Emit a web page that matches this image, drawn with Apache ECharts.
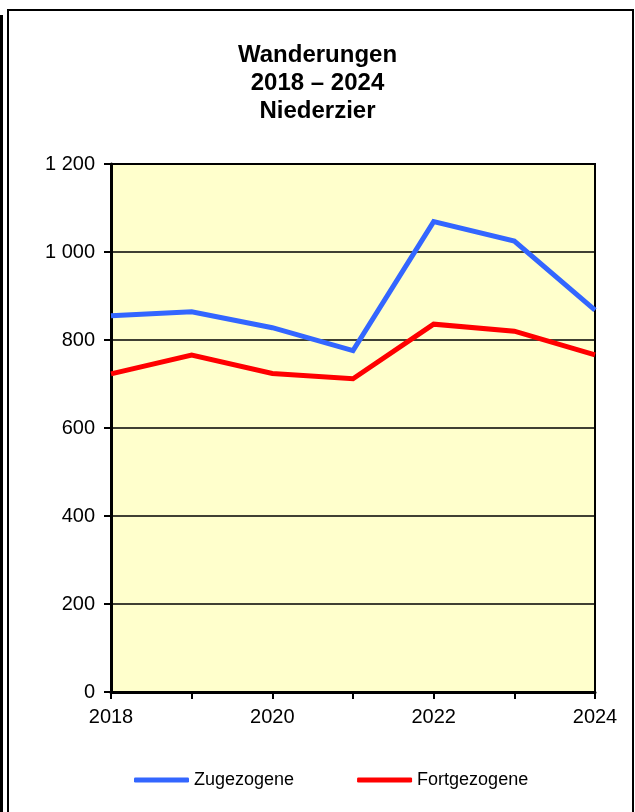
<!DOCTYPE html>
<html>
<head>
<meta charset="utf-8">
<script src="https://cdn.jsdelivr.net/npm/echarts@6/dist/echarts.min.js"></script>
<style>
  html, body { margin: 0; padding: 0; background: #fff; }
  #chart { width: 635px; height: 812px; }
</style>
</head>
<body>
<div id="chart"></div>
<script>
const years = ["2018", "2019", "2020", "2021", "2022", "2023", "2024"]
const zugezogene = [855, 864, 828, 776, 1069, 1025, 868]
const fortgezogene = [723, 766, 724, 712, 836, 820, 766]
const titleLines = ["Wanderungen", "2018 – 2024", "Niederzier"]

const font = "Liberation Sans, Arial, sans-serif"
const chart = echarts.init(document.getElementById("chart"))

const option = {
  animation: false,
  title: {
    text: titleLines.join("\n"),
    left: "center",
    top: 41,
    padding: 0,
    textStyle: { fontFamily: font, fontSize: 24, fontWeight: "bold", color: "#000", lineHeight: 28 },
  },
  graphic: [
    // frame round the whole picture
    { type: "rect", shape: { x: 8, y: 10, width: 625, height: 830 }, style: { fill: null, stroke: "#000", lineWidth: 2 } },
    { type: "rect", shape: { x: 0, y: 15, width: 3, height: 800 }, style: { fill: "#000" } },
  ],
  legend: {
    left: 134,
    top: 771,
    padding: 0,
    itemWidth: 55,
    itemHeight: 5,
    itemGap: 63,
    icon: "roundRect",
    textStyle: { fontFamily: font, fontSize: 18, color: "#000" },
    data: ["Zugezogene", "Fortgezogene"],
  },
  grid: {
    left: 111,
    top: 164,
    right: 40,
    bottom: 120,
    show: true,
    backgroundColor: "#FFFFCC",
    borderColor: "#000",
    borderWidth: 2,
    containLabel: false,
  },
  xAxis: {
    type: "category",
    data: years,
    boundaryGap: false,
    axisLine: { lineStyle: { color: "#000", width: 3 } },
    axisTick: { show: true, length: 7, lineStyle: { color: "#000", width: 2 }, interval: 0 },
    axisLabel: { interval: 1, margin: 15, fontFamily: font, fontSize: 20, color: "#000" },
    splitLine: { show: false },
  },
  yAxis: {
    type: "value",
    min: 0,
    max: 1200,
    interval: 200,
    axisLine: { show: true, lineStyle: { color: "#000", width: 3 } },
    axisTick: { show: true, length: 7, lineStyle: { color: "#000", width: 2 } },
    axisLabel: {
      margin: 16,
      fontFamily: font,
      fontSize: 20,
      color: "#000",
      formatter: v => String(v).replace(/\B(?=(\d{3})+(?!\d))/g, " "),
    },
    splitLine: { show: true, lineStyle: { color: "#000", width: 1.5 } },
  },
  series: [
    {
      name: "Zugezogene",
      type: "line",
      data: zugezogene,
      symbol: "none",
      color: "#3366FF",
      lineStyle: { width: 5, color: "#3366FF", join: "miter" },
    },
    {
      name: "Fortgezogene",
      type: "line",
      data: fortgezogene,
      symbol: "none",
      color: "#FF0000",
      lineStyle: { width: 5, color: "#FF0000", join: "miter" },
    },
  ],
}
chart.setOption(option)
</script>
</body>
</html>
